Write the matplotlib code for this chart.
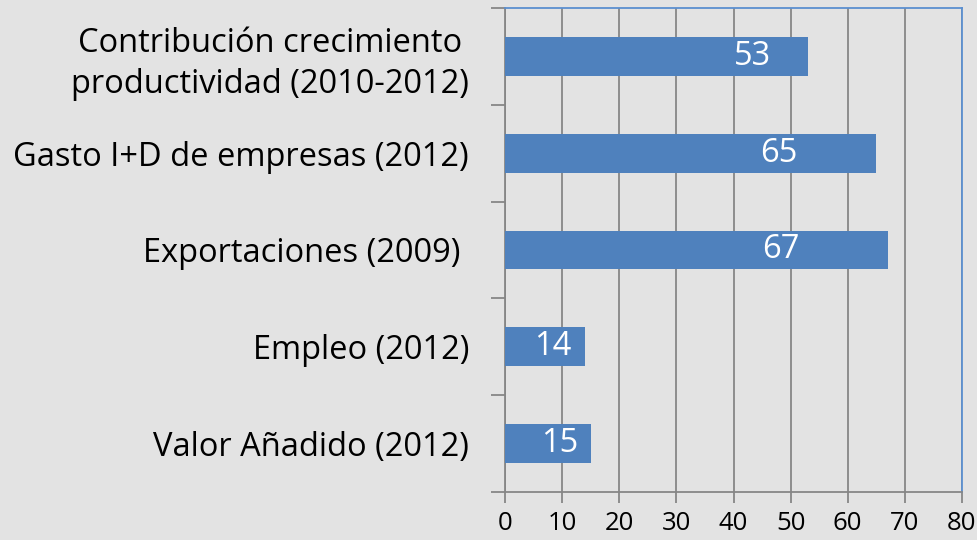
import matplotlib
matplotlib.use("Agg")
import matplotlib.pyplot as plt
import numpy as np

categories = [
    "Valor Añadido (2012)",
    "Empleo (2012)",
    "Exportaciones (2009) ",
    "Gasto I+D de empresas (2012)",
    "Contribución crecimiento\nproductividad (2010-2012)",
]
values = [15, 14, 67, 65, 53]
xticks = [0, 10, 20, 30, 40, 50, 60, 70, 80]

# label placement offsets (in data units, left of bar end) to mimic the reference
label_offsets = [5.5, 5.6, 18.8, 17.1, 9.6]

BG = "#e3e3e3"
BAR = "#4f81bd"
GRID = "#868686"

plt.rcParams['font.family'] = ['Open Sans', 'DejaVu Sans']

fig = plt.figure(figsize=(9.78, 5.4), dpi=100, facecolor=BG)
ax = fig.add_axes([505/978, 1-492/540, (962-505)/978, (492-8)/540])
ax.set_facecolor(BG)

y = np.arange(len(categories))
ax.barh(y, values, height=0.4, color=BAR, zorder=3)

for yi, v, off in zip(y, values, label_offsets):
    ax.text(v - off, yi, str(v), color="white", fontsize=23.5,
            ha="center", va="center", zorder=4)

ax.set_xlim(0, 80)
ax.set_ylim(-0.5, len(categories) - 0.5)
ax.set_xticks(xticks)
ax.set_xticklabels([str(t) for t in xticks], fontsize=18.5, color="black")
ax.xaxis.grid(True, color=GRID, linewidth=1.3, zorder=0)
ax.tick_params(axis="x", length=8, width=1.3, color=GRID, pad=6)

ax.set_yticks(y)
ax.set_yticklabels(categories, fontsize=23.5, color="black", multialignment="center",
                   linespacing=1.3)
ax.tick_params(axis="y", which="major", length=0, pad=26)
ax.set_yticks(np.arange(-0.5, len(categories), 1.0), minor=True)
ax.tick_params(axis="y", which="minor", length=10, width=1.3, color=GRID)

for side in ["left", "bottom"]:
    ax.spines[side].set_color(GRID)
    ax.spines[side].set_linewidth(1.3)
for side in ["top", "right"]:
    ax.spines[side].set_color("#5b8fd0")
    ax.spines[side].set_linewidth(1.3)

fig.savefig("out.png", dpi=100, facecolor=BG)
